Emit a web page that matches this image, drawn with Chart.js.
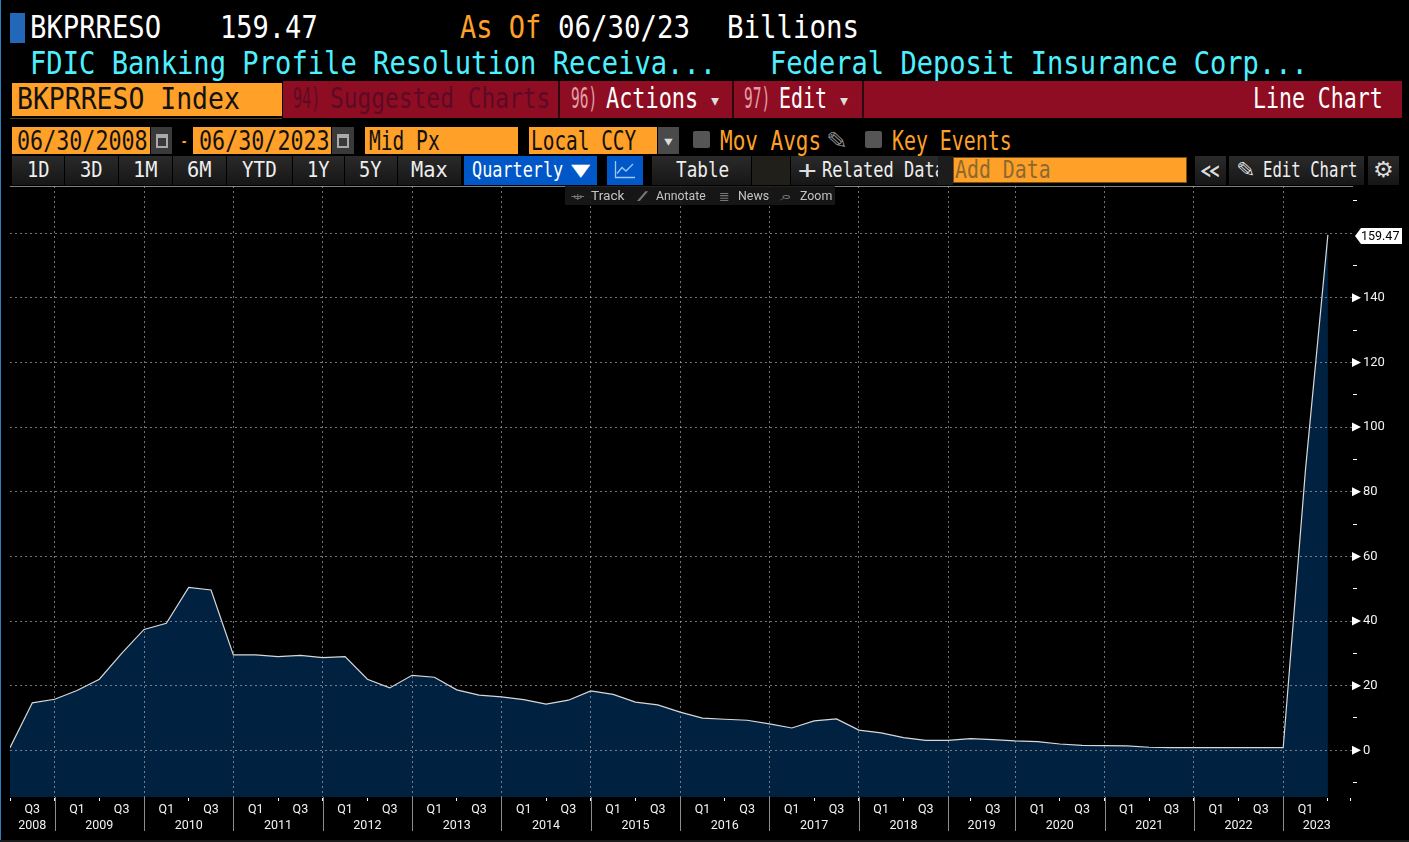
<!DOCTYPE html>
<html>
<head>
<meta charset="utf-8">
<title>BKPRRESO Index</title>
<script src="https://cdn.jsdelivr.net/npm/chart.js@4"></script>
<style>
  html, body { margin: 0; padding: 0; background: #000; overflow: hidden; }
  #page { position: relative; width: 1409px; height: 842px; background: #000; overflow: hidden; }
  #chart { position: absolute; left: 0; top: 186px; }
  .box { position: absolute; }
  .txt { position: absolute; white-space: pre; transform-origin: left center; font-family: "DejaVu Sans Mono", monospace; line-height: 1; }
  svg.icon { position: absolute; }
</style>
</head>
<body>
<div id="page">
  <canvas id="chart" width="1409" height="656"></canvas>
</div>
<script>
// values in billions, one per plotted period (the axis skips Q1 2019)
const resolutionValues = [
  0.8, 14.7, 15.8, 18.5, 22, 30, 37.4, 39.3, 50.4, 49.6,
  29.5, 29.5, 29, 29.4, 28.7, 29, 22, 19.3, 23.2, 22.6,
  18.7, 17.1, 16.5, 15.7, 14.3, 15.5, 18.4, 17.3, 14.9, 14.05,
  11.8, 9.95, 9.6, 9.3, 8.2, 6.9, 9.1, 9.7, 6.25, 5.4,
  3.9, 3.1, 3.1, 3.6, 3.3, 2.9, 2.7, 1.95, 1.55, 1.45,
  1.35, 0.95, 0.85, 0.85, 0.85, 0.85, 0.85, 0.8, 87, 159.47
];
const quarterLabels = [
  '', 'Q3', '', 'Q1', '', 'Q3', '', 'Q1', '', 'Q3', '',
  'Q1', '', 'Q3', '', 'Q1', '', 'Q3', '', 'Q1', '', 'Q3', '',
  'Q1', '', 'Q3', '', 'Q1', '', 'Q3', '', 'Q1', '', 'Q3', '',
  'Q1', '', 'Q3', '', 'Q1', '', 'Q3', '', '', 'Q3', '',
  'Q1', '', 'Q3', '', 'Q1', '', 'Q3', '', 'Q1', '', 'Q3', '',
  'Q1', '', ''
];
const yearLabels = ['2008', '2009', '2010', '2011', '2012', '2013', '2014', '2015', '2016', '2017', '2018', '2019', '2020', '2021', '2022', '2023'];
const yearCenters = [1, 4, 8, 12, 16, 20, 24, 28, 32, 36, 40, 43.5, 47, 51, 55, 58.5];
const yearEdges = [2, 6, 10, 14, 18, 22, 26, 30, 34, 38, 42, 45, 49, 53, 57];
const yTicks = [-10, 0, 10, 20, 30, 40, 50, 60, 70, 80, 90, 100, 110, 120, 130, 140, 150, 160, 170];
const lastValue = '159.47';

const page = document.getElementById('page');

function box(x1, y1, x2, y2, bg, extra) {
  const d = document.createElement('div');
  d.className = 'box';
  d.style.cssText = `left:${x1}px;top:${y1}px;width:${x2 - x1}px;height:${y2 - y1}px;background:${bg};${extra || ''}`;
  page.appendChild(d);
  return d;
}

// text squeezed to the width it has in the terminal
function text(str, x1, x2, yc, size, color, font) {
  const d = document.createElement('div');
  d.className = 'txt';
  d.textContent = str;
  d.style.left = x1 + 'px';
  d.style.fontSize = size + 'px';
  d.style.color = color;
  if (font) d.style.fontFamily = font;
  page.appendChild(d);
  d.style.top = (yc - d.offsetHeight / 2) + 'px';
  d.style.transform = `scaleX(${(x2 - x1) / d.offsetWidth})`;
  return d;
}

const orange = '#ffa028';
const red = '#8f0d22';
const cyan = '#4ef0ff';
const btn = 'linear-gradient(#2a2a2a,#161616)';

// left edge
box(0, 0, 1, 842, '#2a7fc0');
box(0, 840, 1409, 842, '#1c1c1c');

// row 1
box(10, 13, 25, 43, '#2368b8');
text('BKPRRESO', 30, 161, 27, 32, '#fff');
text('159.47', 220, 318, 27, 32, '#fff');
text('As Of', 460, 541, 27, 32, orange);
text('06/30/23', 558, 690, 27, 32, '#fff');
text('Billions', 727, 859, 27, 32, '#fff');

// row 2
text('FDIC Banking Profile Resolution Receiva...', 30, 716, 63, 32, cyan);
text('Federal Deposit Insurance Corp...', 770, 1308, 63, 32, cyan);

// row 3
box(10, 118, 282, 119, '#5a3a10');
box(12, 83, 282, 116, orange);
box(283, 81, 1402, 118, red);
box(558, 81, 560, 118, '#2a0a10');
box(732, 81, 734, 118, '#2a0a10');
box(862, 81, 864, 118, '#2a0a10');
text('BKPRRESO Index', 17, 240, 99, 30, '#111');
text('94)', 293, 320, 98, 29, '#5c0a25');
text('Suggested Charts', 330, 550, 98, 29, '#5c0a25');
text('96)', 571, 597, 98, 29, '#e0a0a8');
text('Actions', 606, 698, 98, 29, '#fff');
text('\u25BE', 709, 721, 100, 20, '#ddd');
text('97)', 744, 770, 98, 29, '#e0a0a8');
text('Edit', 779, 827, 98, 29, '#fff');
text('\u25BE', 838, 850, 100, 20, '#ddd');
text('Line Chart', 1253, 1383, 98, 29, '#fff');

// row 4
box(12, 127, 150, 154, orange);
text('06/30/2008', 17, 148, 140, 27, '#111');
box(151, 127, 172, 154, '#3a3a3a');
box(156, 134, 168, 148, 'transparent', 'border:2px solid #aaa;box-sizing:border-box;border-top-width:4px;');
text('-', 180, 188, 141, 24, orange);
box(193, 127, 331, 154, orange);
text('06/30/2023', 199, 330, 140, 27, '#111');
box(332, 127, 354, 154, '#3a3a3a');
box(337, 134, 349, 148, 'transparent', 'border:2px solid #aaa;box-sizing:border-box;border-top-width:4px;');
box(365, 127, 518, 154, orange);
text('Mid Px', 369, 440, 140, 27, '#111');
box(529, 127, 657, 154, orange);
text('Local CCY', 531, 636, 140, 27, '#111');
box(658, 127, 679, 154, '#4a4a4a');
text('\u25BE', 662, 675, 141, 18, '#ddd');
box(693, 131, 710, 148, '#555', 'border-radius:2px;');
text('Mov Avgs', 720, 821, 140, 27, orange);
text('\u270E', 826, 848, 141, 24, '#888', '"DejaVu Sans"');
box(865, 131, 882, 148, '#555', 'border-radius:2px;');
text('Key Events', 892, 1012, 140, 27, orange);

// row 5 buttons
const rangeButtons = [['1D', 12, 64, 27, 50], ['3D', 65, 118, 80, 103], ['1M', 119, 172, 133, 158], ['6M', 173, 226, 187, 212],
  ['YTD', 227, 292, 242, 277], ['1Y', 293, 344, 307, 330], ['5Y', 345, 397, 359, 382], ['Max', 398, 461, 411, 448]];
rangeButtons.forEach(b => {
  box(b[1], 156, b[2], 185, btn);
  text(b[0], b[3], b[4], 170, 22, '#eee');
});
box(464, 156, 597, 185, '#0058c8');
text('Quarterly', 472, 563, 170, 22, '#fff');
text('\u25BC', 571, 590, 170, 22, '#fff');
box(607, 156, 643, 185, '#0058c8');
page.insertAdjacentHTML('beforeend', '<svg class="icon" style="left:614px;top:159px" width="22" height="22" viewBox="0 0 22 22" fill="none" stroke="#9cc8f5" stroke-width="1.3"><path d="M1.5 2V18.5H21"/><path d="M3 14.5L8 8.5L12 12L19 5"/></svg>');
box(652, 156, 751, 185, btn);
text('Table', 676, 729, 170, 22, '#eee');
box(752, 156, 790, 185, '#211f1a');
box(791, 156, 938, 185, btn);
text('+', 798, 816, 170, 24, '#ddd');
text('Related Data', 822, 945, 170, 22, '#eee');
box(938, 156, 953, 185, '#1c1c1c');
box(953, 157, 1187, 183, orange, 'border:1px solid #7a4c10;box-sizing:border-box;');
text('Add Data', 955, 1051, 170, 24, '#8a6a30');
box(1195, 156, 1226, 185, btn);
text('\u00AB', 1199, 1222, 169, 27, '#ddd');
box(1229, 156, 1364, 185, btn);
text('\u270E', 1236, 1256, 170, 21, '#ddd', '"DejaVu Sans"');
text('Edit Chart', 1263, 1357, 170, 22, '#eee');
box(1368, 156, 1399, 185, btn);
text('\u2699', 1373, 1394, 170, 22, '#ddd', '"DejaVu Sans"');

function addToolbar() {
  box(565, 186, 835, 205, 'rgba(24,24,24,0.9)');
  text('\u2316', 571, 584, 196, 13, '#777', '"DejaVu Sans"');
  text('Track', 591, 624, 196, 12, '#c4c4c4', 'Roboto');
  text('\u2215', 637, 648, 196, 12, '#777', '"DejaVu Sans"');
  text('Annotate', 656, 706, 196, 12, '#c4c4c4', 'Roboto');
  text('\u2263', 719, 730, 196, 13, '#777', '"DejaVu Sans"');
  text('News', 738, 769, 196, 12, '#c4c4c4', 'Roboto');
  text('\u2315', 780, 792, 196, 13, '#777', '"DejaVu Sans"');
  text('Zoom', 800, 832, 196, 12, '#c4c4c4', 'Roboto');
}

// year separators, axis arrows and the last value flag
const terminalMarks = {
  id: 'terminalMarks',
  afterDraw(chart) {
    const ctx = chart.ctx;
    const x = chart.scales.x;
    const y = chart.scales.y;
    ctx.save();
    ctx.strokeStyle = '#8c8c8c';
    ctx.lineWidth = 1;
    yearEdges.forEach(v => {
      const px = Math.round(x.getPixelForValue(v)) + 0.5;
      ctx.beginPath();
      ctx.moveTo(px, x.top);
      ctx.lineTo(px, x.top + 34);
      ctx.stroke();
    });
    ctx.fillStyle = '#fff';
    yTicks.filter(v => v >= 0 && v % 20 === 0 && v < 160).forEach(v => {
      const py = y.getPixelForValue(v);
      ctx.beginPath();
      ctx.moveTo(y.left, py - 4.5);
      ctx.lineTo(y.left + 9, py);
      ctx.lineTo(y.left, py + 4.5);
      ctx.fill();
    });
    const py = Math.round(y.getPixelForValue(resolutionValues[resolutionValues.length - 1])) + 1;
    ctx.beginPath();
    ctx.moveTo(y.left + 3, py);
    ctx.lineTo(y.left + 9, py - 8);
    ctx.lineTo(y.left + 50, py - 8);
    ctx.lineTo(y.left + 50, py + 8);
    ctx.lineTo(y.left + 9, py + 8);
    ctx.closePath();
    ctx.fill();
    ctx.fillStyle = '#000';
    ctx.font = '12.5px Roboto';
    ctx.textAlign = 'left';
    ctx.textBaseline = 'middle';
    ctx.fillText(lastValue, y.left + 9, py + 1);
    ctx.restore();
  }
};

new Chart(document.getElementById('chart'), {
  type: 'line',
  plugins: [terminalMarks],
  data: {
    datasets: [{
      data: resolutionValues.map((v, i) => ({ x: i, y: v })),
      borderColor: '#d8d8d8',
      borderWidth: 1.2,
      backgroundColor: '#00213f',
      fill: 'start',
      pointRadius: 0,
      tension: 0
    }]
  },
  options: {
    responsive: false,
    animation: false,
    layout: { padding: { left: 10, right: 0, top: 0, bottom: 0 } },
    plugins: { legend: { display: false }, tooltip: { enabled: false } },
    scales: {
      x: {
        type: 'linear',
        min: 0,
        max: 60.08,
        afterBuildTicks: s => { s.ticks = quarterLabels.map((l, i) => ({ value: i })); },
        afterFit: s => { s.height = 18; s.paddingLeft = 0; s.paddingRight = 0; },
        border: { color: '#fff', width: 1, dash: [2, 3] },
        grid: {
          z: 1,
          lineWidth: 1,
          tickLength: 4,
          color: c => yearEdges.includes(c.tick.value) ? 'rgba(190,190,190,0.6)' : 'transparent',
          tickColor: c => quarterLabels[c.tick.value] === '' ? '#fff' : 'transparent',
          tickBorderDash: []
        },
        ticks: {
          autoSkip: false,
          maxRotation: 0,
          padding: 1,
          color: '#f2f2f2',
          font: { family: 'Roboto', size: 12.5 },
          callback: v => quarterLabels[v]
        }
      },
      years: {
        type: 'linear',
        position: 'bottom',
        min: 0,
        max: 60.08,
        afterBuildTicks: s => { s.ticks = yearCenters.map(v => ({ value: v })); },
        afterFit: s => { s.height = 27; s.paddingLeft = 0; s.paddingRight = 0; },
        border: { display: false },
        grid: { display: false, drawTicks: false },
        ticks: {
          autoSkip: false,
          maxRotation: 0,
          padding: 3,
          color: '#f2f2f2',
          font: { family: 'Roboto', size: 12.5 },
          callback: v => yearLabels[yearCenters.indexOf(v)]
        }
      },
      y: {
        type: 'linear',
        position: 'right',
        min: -14.45,
        max: 174.6,
        afterBuildTicks: s => { s.ticks = yTicks.map(v => ({ value: v })); },
        afterFit: s => { s.width = 57; s.paddingTop = 0; s.paddingBottom = 0; },
        border: { color: '#fff', width: 1, dash: [2, 3] },
        grid: {
          z: 1,
          lineWidth: 1,
          tickLength: 5,
          color: c => c.tick.value >= 0 && c.tick.value % 20 === 0 && c.tick.value <= 160 ? 'rgba(190,190,190,0.6)' : 'transparent',
          tickColor: c => c.tick.value % 20 === 0 ? 'transparent' : '#fff',
          tickBorderDash: []
        },
        ticks: {
          autoSkip: false,
          padding: 6,
          color: '#f2f2f2',
          font: { family: 'Roboto', size: 13 },
          callback: v => (v >= 0 && v % 20 === 0 && v < 160) ? String(v) : ''
        }
      }
    }
  }
});

addToolbar();
</script>
</body>
</html>
